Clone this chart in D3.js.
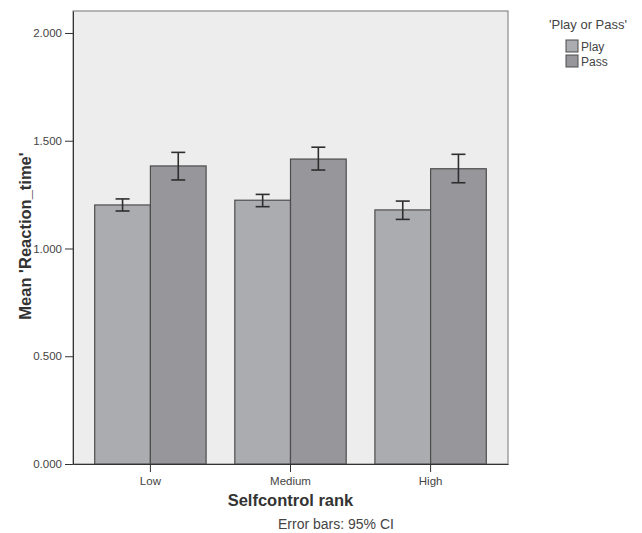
<!DOCTYPE html>
<html>
<head>
<meta charset="utf-8">
<script src="https://cdn.jsdelivr.net/npm/d3@7"></script>
<style>
  body { margin: 0; background: #fff; }
  text { font-family: Arial, "Liberation Sans", sans-serif; }
</style>
</head>
<body>
<div id="chart"></div>
<script>
// data
var categories = ["Low", "Medium", "High"];
var groups = ["Play", "Pass"];
var playMean = [1.202, 1.224, 1.179];
var playLow = [1.174, 1.194, 1.135];
var playHigh = [1.230, 1.251, 1.220];
var passMean = [1.383, 1.415, 1.370];
var passLow = [1.318, 1.364, 1.305];
var passHigh = [1.446, 1.470, 1.437];
var yTicks = [0, 0.5, 1, 1.5, 2];

var rows = [];
categories.forEach(function(c, i) {
  rows.push({cat: c, grp: "Play", mean: playMean[i], lo: playLow[i], hi: playHigh[i]});
  rows.push({cat: c, grp: "Pass", mean: passMean[i], lo: passLow[i], hi: passHigh[i]});
});

var width = 642, height = 533;
var plot = {left: 73, right: 508, top: 11, bottom: 464};

var svg = d3.select("#chart").append("svg")
  .attr("width", width)
  .attr("height", height);

var x = d3.scaleBand()
  .domain(categories)
  .range([plot.left, plot.right])
  .paddingInner(0.205)
  .paddingOuter(0.155);

var xg = d3.scaleBand()
  .domain(groups)
  .range([0, x.bandwidth()]);

var y = d3.scaleLinear()
  .domain([0, 2.102])
  .range([plot.bottom, plot.top]);

var color = d3.scaleOrdinal().domain(groups).range(["#abacb0", "#97979b"]);

// plot background
svg.append("rect")
  .attr("x", plot.left).attr("y", plot.top)
  .attr("width", plot.right - plot.left)
  .attr("height", plot.bottom - plot.top)
  .attr("fill", "#ededed")
  .attr("stroke", "#8a8a8a")
  .attr("stroke-width", 1.2);

// bars
svg.selectAll(".bar")
  .data(rows)
  .enter().append("rect")
  .attr("class", "bar")
  .attr("x", function(d) { return x(d.cat) + xg(d.grp); })
  .attr("y", function(d) { return y(d.mean); })
  .attr("width", xg.bandwidth())
  .attr("height", function(d) { return y(0) - y(d.mean); })
  .attr("fill", function(d) { return color(d.grp); })
  .attr("stroke", "#4d4d4d")
  .attr("stroke-width", 1.2);

// error bars
var eb = svg.selectAll(".err")
  .data(rows)
  .enter().append("g")
  .attr("class", "err")
  .attr("stroke", "#2e2e2e")
  .attr("stroke-width", 1.6);

function cx(d) { return x(d.cat) + xg(d.grp) + xg.bandwidth() / 2; }

eb.append("line")
  .attr("x1", cx).attr("x2", cx)
  .attr("y1", function(d) { return y(d.lo); })
  .attr("y2", function(d) { return y(d.hi); });
eb.append("line")
  .attr("x1", function(d) { return cx(d) - 7; })
  .attr("x2", function(d) { return cx(d) + 7; })
  .attr("y1", function(d) { return y(d.lo); })
  .attr("y2", function(d) { return y(d.lo); });
eb.append("line")
  .attr("x1", function(d) { return cx(d) - 7; })
  .attr("x2", function(d) { return cx(d) + 7; })
  .attr("y1", function(d) { return y(d.hi); })
  .attr("y2", function(d) { return y(d.hi); });

// y axis
var yAxis = svg.append("g")
  .attr("transform", "translate(" + plot.left + ",0)")
  .call(d3.axisLeft(y).tickValues(yTicks).tickFormat(d3.format(".3f"))
    .tickSizeInner(8).tickSizeOuter(0).tickPadding(3));
yAxis.select(".domain").attr("stroke", "#333");
yAxis.selectAll(".tick line").attr("stroke", "#333");
yAxis.selectAll(".tick text").attr("fill", "#444").attr("font-size", "11.5px");

// x axis
var xAxis = svg.append("g")
  .attr("transform", "translate(0," + plot.bottom + ")")
  .call(d3.axisBottom(x).tickSizeInner(8).tickSizeOuter(0).tickPadding(5));
xAxis.select(".domain").attr("stroke", "#333");
xAxis.selectAll(".tick line").attr("stroke", "#333");
xAxis.selectAll(".tick text").attr("fill", "#444").attr("font-size", "11.5px");

// titles
svg.append("text")
  .attr("x", x("Medium") + x.bandwidth() / 2)
  .attr("y", 506)
  .attr("text-anchor", "middle")
  .attr("font-size", "16.5px")
  .attr("font-weight", "bold")
  .attr("fill", "#333")
  .text("Selfcontrol rank");

svg.append("text")
  .attr("transform", "translate(31," + 236 + ") rotate(-90)")
  .attr("text-anchor", "middle")
  .attr("font-size", "16.5px")
  .attr("font-weight", "bold")
  .attr("fill", "#333")
  .text("Mean 'Reaction_time'");

svg.append("text")
  .attr("x", 278)
  .attr("y", 529)
  .attr("font-size", "14px")
  .attr("fill", "#444")
  .text("Error bars: 95% CI");

// legend
svg.append("text")
  .attr("x", 588).attr("y", 29)
  .attr("text-anchor", "middle")
  .attr("font-size", "13px")
  .attr("fill", "#444")
  .text("'Play or Pass'");

var leg = svg.selectAll(".leg")
  .data(groups)
  .enter().append("g")
  .attr("class", "leg")
  .attr("transform", function(d, i) { return "translate(566," + (40 + i * 15) + ")"; });
leg.append("rect")
  .attr("width", 12).attr("height", 12)
  .attr("fill", function(d) { return color(d); })
  .attr("stroke", "#4d4d4d");
leg.append("text")
  .attr("x", 15).attr("y", 10.5)
  .attr("font-size", "12px")
  .attr("fill", "#444")
  .text(function(d) { return d; });
</script>
</body>
</html>
